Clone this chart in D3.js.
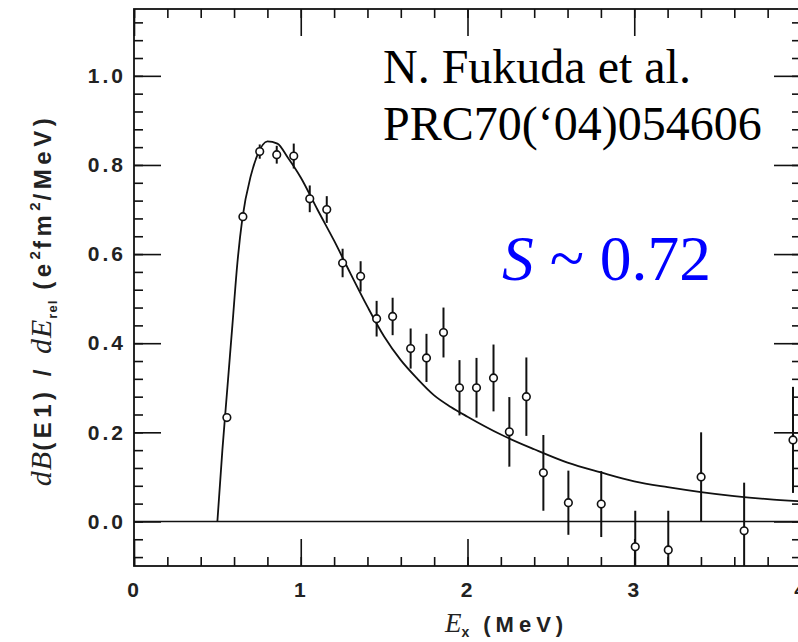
<!DOCTYPE html>
<html lang="en">
  <head>
    <meta charset="UTF-8" />
    <title>dB(E1)/dErel</title>
    <style>
      body { margin: 0; background: #fff; }
      .tick text { font-family: "Liberation Sans", Arial, sans-serif; font-weight: bold; font-size: 21px; letter-spacing: 3px; fill: #222; }
    </style>
  </head>
  <body>
    <script src="https://d3js.org/d3.v7.min.js"></script>
    <script>
      const width = 798
      const height = 642

      // measured points: Ex (MeV), dB/dE, half error
      const pointE = [0.557, 0.653, 0.754, 0.856, 0.958, 1.054, 1.156, 1.251, 1.359, 1.455, 1.551, 1.659, 1.754, 1.856, 1.952, 2.054, 2.156, 2.251, 2.353, 2.455, 2.605, 2.802, 3.006, 3.204, 3.401, 3.659, 3.952]
      const pointV = [0.233, 0.684, 0.830, 0.823, 0.820, 0.724, 0.700, 0.580, 0.550, 0.455, 0.460, 0.388, 0.367, 0.424, 0.300, 0.300, 0.322, 0.201, 0.280, 0.109, 0.042, 0.039, -0.057, -0.064, 0.100, -0.021, 0.183]
      const pointErr = [0.004, 0.008, 0.016, 0.02, 0.028, 0.03, 0.03, 0.032, 0.034, 0.04, 0.042, 0.045, 0.054, 0.056, 0.062, 0.067, 0.075, 0.078, 0.088, 0.085, 0.072, 0.074, 0.081, 0.088, 0.1, 0.108, 0.119]

      // fitted curve
      const curveE = [0.50, 0.53, 0.56, 0.59, 0.62, 0.65, 0.70, 0.74, 0.80, 0.86, 0.92, 1.0, 1.1, 1.2, 1.3, 1.4, 1.5, 1.6, 1.7, 1.8, 1.9, 2.0, 2.2, 2.4, 2.6, 2.8, 3.0, 3.2, 3.4, 3.6, 3.8, 4.0]
      const curveV = [0, 0.16, 0.30, 0.44, 0.58, 0.68, 0.775, 0.822, 0.853, 0.848, 0.818, 0.772, 0.70, 0.63, 0.555, 0.482, 0.415, 0.362, 0.32, 0.283, 0.257, 0.235, 0.195, 0.162, 0.132, 0.11, 0.09, 0.077, 0.066, 0.057, 0.05, 0.045]

      const xMajor = [0, 1, 2, 3, 4]
      const xMinor = d3.range(0, 4.01, 0.2)
      const yMajor = [0, 0.2, 0.4, 0.6, 0.8, 1.0]
      const yMinor = d3.range(-0.08, 1.13, 0.04)

      const pLeft = 134, pRight = 801, pTop = 9, pBottom = 566

      const svg = d3.select("body").append("svg")
        .attr("width", width)
        .attr("height", height)

      const x = d3.scaleLinear().domain([0, 4]).range([pLeft, pRight])
      const y = d3.scaleLinear().domain([-0.1, 1.15]).range([pBottom, pTop])

      svg.append("clipPath").attr("id", "frame")
        .append("rect")
        .attr("x", pLeft).attr("y", pTop)
        .attr("width", pRight - pLeft).attr("height", pBottom - pTop)

      // axes: ticks point inwards
      const ax = (g, axis) => { g.call(axis); g.select(".domain").remove(); g.selectAll("line").attr("stroke", "#111").attr("stroke-width", 1.6) }

      svg.append("g").attr("transform", `translate(0,${pBottom})`)
        .call(g => ax(g, d3.axisBottom(x).tickValues(xMinor).tickSize(-9).tickFormat("")))
      svg.append("g").attr("transform", `translate(0,${pBottom})`)
        .call(g => ax(g, d3.axisBottom(x).tickValues(xMajor).tickSize(-27).tickPadding(16).tickFormat(d3.format("d"))))
      svg.append("g").attr("transform", `translate(0,${pTop})`)
        .call(g => ax(g, d3.axisTop(x).tickValues(xMinor).tickSize(-9).tickFormat("")))
      svg.append("g").attr("transform", `translate(0,${pTop})`)
        .call(g => ax(g, d3.axisTop(x).tickValues(xMajor).tickSize(-27).tickFormat("")))

      svg.append("g").attr("transform", `translate(${pLeft},0)`)
        .call(g => ax(g, d3.axisLeft(y).tickValues(yMinor).tickSize(-9).tickFormat("")))
      svg.append("g").attr("transform", `translate(${pLeft},0)`)
        .call(g => ax(g, d3.axisLeft(y).tickValues(yMajor).tickSize(-27).tickPadding(8).tickFormat(d3.format(".1f"))))
      svg.append("g").attr("transform", `translate(${pRight},0)`)
        .call(g => ax(g, d3.axisRight(y).tickValues(yMinor).tickSize(-9).tickFormat("")))
      svg.append("g").attr("transform", `translate(${pRight},0)`)
        .call(g => ax(g, d3.axisRight(y).tickValues(yMajor).tickSize(-27).tickFormat("")))

      svg.append("rect")
        .attr("x", pLeft).attr("y", pTop)
        .attr("width", pRight - pLeft).attr("height", pBottom - pTop)
        .attr("fill", "none").attr("stroke", "#111").attr("stroke-width", 1.8)

      // zero line
      svg.append("line")
        .attr("x1", pLeft).attr("x2", pRight)
        .attr("y1", y(0)).attr("y2", y(0))
        .attr("stroke", "#111").attr("stroke-width", 1.6)

      const plot = svg.append("g").attr("clip-path", "url(#frame)")

      const line = d3.line()
        .x((d, i) => x(curveE[i]))
        .y(d => y(d))
        .curve(d3.curveMonotoneX)

      plot.append("path")
        .attr("d", line(curveV))
        .attr("fill", "none")
        .attr("stroke", "#111")
        .attr("stroke-width", 1.8)

      const pts = pointE.map((e, i) => ({ e: e, v: pointV[i], err: pointErr[i] }))

      plot.selectAll("line.err")
        .data(pts)
        .enter()
        .append("line")
        .attr("class", "err")
        .attr("x1", d => x(d.e)).attr("x2", d => x(d.e))
        .attr("y1", d => y(d.v - d.err)).attr("y2", d => y(d.v + d.err))
        .attr("stroke", "#111").attr("stroke-width", 2)

      plot.selectAll("circle")
        .data(pts)
        .enter()
        .append("circle")
        .attr("cx", d => x(d.e)).attr("cy", d => y(d.v))
        .attr("r", 3.8)
        .attr("fill", "#fff")
        .attr("stroke", "#111").attr("stroke-width", 1.6)

      // axis titles
      const xt = svg.append("text")
        .attr("x", 445).attr("y", 632)
        .attr("font-family", "Liberation Sans, Arial, sans-serif")
        .attr("font-weight", "bold").attr("font-size", 22).attr("fill", "#222")
      xt.append("tspan").text("E").attr("font-family", "Liberation Serif, serif").attr("font-style", "italic").attr("font-weight", "normal").attr("font-size", 27)
      xt.append("tspan").text("x").attr("font-size", 14).attr("dy", 5)
      xt.append("tspan").text("(MeV)").attr("dy", -5).attr("dx", 14).attr("letter-spacing", 5)

      const yt = svg.append("text")
        .attr("transform", "translate(51,300) rotate(-90)")
        .attr("text-anchor", "middle")
        .attr("font-family", "Liberation Sans, Arial, sans-serif")
        .attr("font-weight", "bold").attr("font-size", 24).attr("fill", "#222")
      const ital = s => yt.append("tspan").text(s).attr("font-family", "Liberation Serif, serif").attr("font-style", "italic").attr("font-weight", "normal").attr("font-size", 30).attr("letter-spacing", 1)
      ital("dB")
      yt.append("tspan").text("(E1) / ").attr("letter-spacing", 4.5)
      ital("dE")
      yt.append("tspan").text("rel").attr("font-size", 13).attr("dy", 6).attr("letter-spacing", 1)
      yt.append("tspan").text("(e").attr("dy", -6).attr("dx", 10).attr("letter-spacing", 4.5)
      yt.append("tspan").text("2").attr("font-size", 15).attr("dy", -11)
      yt.append("tspan").text("fm").attr("dy", 11).attr("dx", 2).attr("letter-spacing", 4.5)
      yt.append("tspan").text("2").attr("font-size", 15).attr("dy", -11)
      yt.append("tspan").text("/MeV)").attr("dy", 11).attr("dx", 2).attr("letter-spacing", 4.5)

      // annotations
      svg.append("text")
        .attr("x", 383).attr("y", 83)
        .attr("font-family", "Liberation Serif, Times New Roman, serif")
        .attr("font-size", 48).attr("fill", "#000")
        .text("N. Fukuda et al.")
      svg.append("text")
        .attr("x", 383).attr("y", 140)
        .attr("font-family", "Liberation Serif, Times New Roman, serif")
        .attr("font-size", 48).attr("fill", "#000")
        .text("PRC70(\u201804)054606")

      const s = svg.append("text")
        .attr("x", 502).attr("y", 280)
        .attr("font-family", "Liberation Serif, Times New Roman, serif")
        .attr("font-size", 63.5).attr("fill", "#0000ff")
      s.append("tspan").text("S").attr("font-style", "italic")
      s.append("tspan").text(" ~ 0.72")
    </script>
  </body>
</html>
